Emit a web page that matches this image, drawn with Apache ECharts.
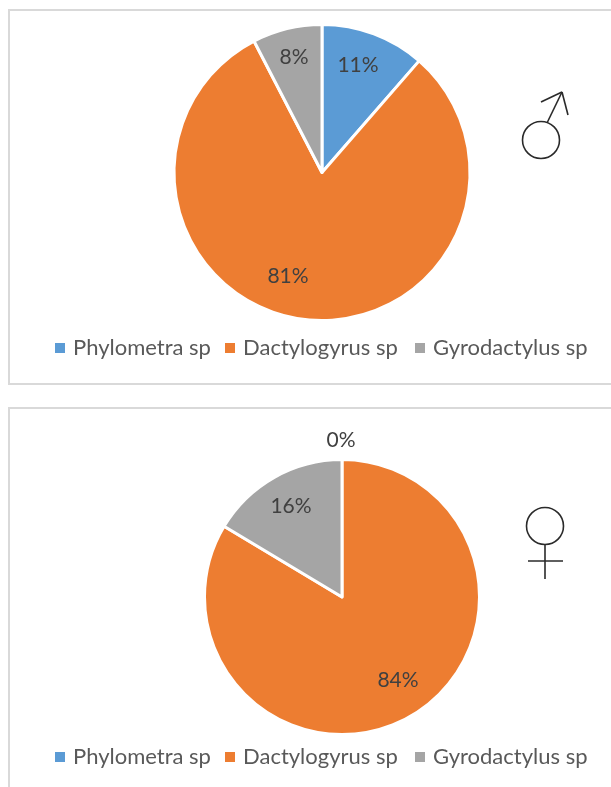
<!DOCTYPE html>
<html><head><meta charset="utf-8">
<style>html,body{margin:0;padding:0;background:#fff}#c{width:611px;height:787px}</style>
<script src="https://cdn.jsdelivr.net/npm/echarts@6/dist/echarts.min.js"></script>
</head><body><div id="c"></div>
<script>
const categories = ['Phylometra sp', 'Dactylogyrus sp', 'Gyrodactylus sp'];
const maleValues = [11.4, 81.0, 7.6];
const femaleValues = [0, 83.6, 16.4];
const colors = ['#5B9BD5', '#ED7D31', '#A5A5A5'];
const maleLabelPos = [[358, 65], [288, 276], [294, 57]];
const femaleLabelPos = [[341, 440], [398, 680], [291, 506]];
const legendLefts = [50, 220, 410];

const chart = echarts.init(document.getElementById('c'));
const F = 'Lato, Carlito, sans-serif';
const pie = (name, values, center, radius, pos) => ({
  type: 'pie', name, center, radius, startAngle: 90, clockwise: true,
  minShowLabelAngle: 0, percentPrecision: 0, animation: false, silent: true,
  data: categories.map((c, i) => ({ name: c, value: values[i] })),
  itemStyle: { borderColor: '#fff', borderWidth: 3 },
  label: { show: true, position: 'inside', formatter: '{d}%', color: '#404040', fontFamily: F, fontSize: 21 },
  labelLine: { show: false },
  labelLayout: p => ({ x: pos[p.dataIndex][0], y: pos[p.dataIndex][1], align: 'center', verticalAlign: 'middle' })
});
const legends = top => categories.map((c, i) => ({
  left: legendLefts[i], top, data: [c], icon: 'rect', itemWidth: 10, itemHeight: 10,
  itemStyle: { borderWidth: 0 }, selectedMode: false,
  textStyle: { color: '#595959', fontFamily: F, fontSize: 22, padding: [0, 0, 0, 3] }
}));
const stroke = (w, c) => ({ stroke: c || '#2a2a2a', lineWidth: w, fill: 'none' });
const seg = (x1, y1, x2, y2) => ({ type: 'line', shape: { x1, y1, x2, y2 }, style: stroke(1.6) });
const frame = (x, y, w, h) => ({ type: 'rect', shape: { x, y, width: w, height: h }, style: { stroke: '#d9d9d9', lineWidth: 2, fill: '#fff' }, z: -1 });

chart.setOption({
  backgroundColor: '#fff',
  color: colors,
  animation: false,
  legend: [...legends(332), ...legends(741)],
  series: [
    pie('Male', maleValues, [322, 172.5], 148, maleLabelPos),
    pie('Female', femaleValues, [342, 597], 137.5, femaleLabelPos)
  ],
  graphic: [
    frame(9, 10, 640, 374),
    frame(9, 408, 640, 420),
    { type: 'circle', shape: { cx: 541, cy: 140, r: 18.5 }, style: stroke(1.6) },
    seg(547, 123, 562, 92), seg(541, 102, 562, 92), seg(562, 92, 568, 115),
    { type: 'circle', shape: { cx: 545, cy: 526, r: 18.5 }, style: stroke(1.6) },
    seg(545, 545, 545, 579), seg(528, 561, 563, 561)
  ]
});
</script></body></html>
